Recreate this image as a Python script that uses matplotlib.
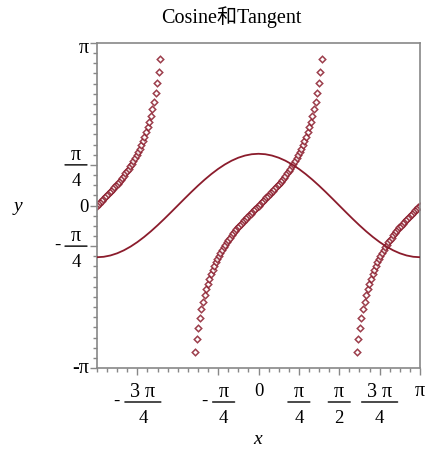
import numpy as np
import matplotlib
matplotlib.use("Agg")
import matplotlib.pyplot as plt
from matplotlib.ticker import MultipleLocator
from matplotlib.transforms import blended_transform_factory, offset_copy

plt.rcParams['font.family'] = ['Liberation Serif', 'Noto Sans CJK SC', 'DejaVu Sans']

PI = np.pi

# ---- data: cosine curve ----
cos_x = [-3.1416, -3.0107, -2.8798, -2.7489, -2.6180, -2.4871, -2.3562, -2.2253, -2.0944, -1.9635,
         -1.8326, -1.7017, -1.5708, -1.4399, -1.3090, -1.1781, -1.0472, -0.9163, -0.7854, -0.6545,
         -0.5236, -0.3927, -0.2618, -0.1309, 0.0000, 0.1309, 0.2618, 0.3927, 0.5236, 0.6545,
         0.7854, 0.9163, 1.0472, 1.1781, 1.3090, 1.4399, 1.5708, 1.7017, 1.8326, 1.9635,
         2.0944, 2.2253, 2.3562, 2.4871, 2.6180, 2.7489, 2.8798, 3.0107, 3.1416]
cos_y = [-1.0000, -0.99144, -0.96593, -0.92388, -0.86603, -0.79335, -0.70711, -0.60876, -0.5000, -0.38268,
         -0.25882, -0.13053, 0.0000, 0.13053, 0.25882, 0.38268, 0.5000, 0.60876, 0.70711, 0.79335,
         0.86603, 0.92388, 0.96593, 0.99144, 1.0000, 0.99144, 0.96593, 0.92388, 0.86603, 0.79335,
         0.70711, 0.60876, 0.5000, 0.38268, 0.25882, 0.13053, 0.0000, -0.13053, -0.25882, -0.38268,
         -0.5000, -0.60876, -0.70711, -0.79335, -0.86603, -0.92388, -0.96593, -0.99144, -1.0000]

# ---- data: tangent points (three visible branches) ----
tan_left_x = [-3.1416, -3.1108, -3.0800, -3.0492, -3.0184, -2.9876, -2.9568, -2.9260, -2.8952, -2.8644,
              -2.8336, -2.8028, -2.7720, -2.7412, -2.7104, -2.6796, -2.6488, -2.6180, -2.5872, -2.5564,
              -2.5256, -2.4948, -2.4640, -2.4332, -2.4024, -2.3716, -2.3408, -2.3100, -2.2792, -2.2484,
              -2.2176, -2.1868, -2.1560, -2.1252, -2.0944, -2.0636, -2.0328, -2.0020, -1.9712, -1.9404,
              -1.9096]
tan_left_y = [0.0000, 0.0308, 0.0617, 0.0927, 0.1238, 0.1552, 0.1869, 0.2190, 0.2515, 0.2845,
              0.3181, 0.3524, 0.3874, 0.4233, 0.4601, 0.4980, 0.5370, 0.5774, 0.6192, 0.6626,
              0.7079, 0.7552, 0.8047, 0.8568, 0.9116, 0.9697, 1.0313, 1.0970, 1.1672, 1.2427,
              1.3242, 1.4127, 1.5092, 1.6151, 1.7321, 1.8622, 2.0082, 2.1735, 2.3626, 2.5813,
              2.8379]

tan_mid_x = [-1.2320, -1.2012, -1.1704, -1.1396, -1.1088, -1.0780, -1.0472, -1.0164, -0.9856, -0.9548,
             -0.9240, -0.8932, -0.8624, -0.8316, -0.8008, -0.7700, -0.7392, -0.7084, -0.6776, -0.6468,
             -0.6160, -0.5852, -0.5544, -0.5236, -0.4928, -0.4620, -0.4312, -0.4004, -0.3696, -0.3388,
             -0.3080, -0.2772, -0.2464, -0.2156, -0.1848, -0.1540, -0.1232, -0.0924, -0.0616, -0.0308,
             0.0000,
             0.0308, 0.0616, 0.0924, 0.1232, 0.1540, 0.1848, 0.2156, 0.2464, 0.2772, 0.3080,
             0.3388, 0.3696, 0.4004, 0.4312, 0.4620, 0.4928, 0.5236, 0.5544, 0.5852, 0.6160,
             0.6468, 0.6776, 0.7084, 0.7392, 0.7700, 0.8008, 0.8316, 0.8624, 0.8932, 0.9240,
             0.9548, 0.9856, 1.0164, 1.0472, 1.0780, 1.1088, 1.1396, 1.1704, 1.2012, 1.2320]
tan_mid_y = [-2.8379, -2.5813, -2.3626, -2.1735, -2.0082, -1.8622, -1.7321, -1.6151, -1.5092, -1.4127,
             -1.3242, -1.2427, -1.1672, -1.0970, -1.0313, -0.9697, -0.9116, -0.8568, -0.8047, -0.7552,
             -0.7079, -0.6626, -0.6192, -0.5774, -0.5370, -0.4980, -0.4601, -0.4233, -0.3874, -0.3524,
             -0.3181, -0.2845, -0.2515, -0.2190, -0.1869, -0.1552, -0.1238, -0.0927, -0.0617, -0.0308,
             0.0000,
             0.0308, 0.0617, 0.0927, 0.1238, 0.1552, 0.1869, 0.2190, 0.2515, 0.2845, 0.3181,
             0.3524, 0.3874, 0.4233, 0.4601, 0.4980, 0.5370, 0.5774, 0.6192, 0.6626, 0.7079,
             0.7552, 0.8047, 0.8568, 0.9116, 0.9697, 1.0313, 1.0970, 1.1672, 1.2427, 1.3242,
             1.4127, 1.5092, 1.6151, 1.7321, 1.8622, 2.0082, 2.1735, 2.3626, 2.5813, 2.8379]

tan_right_x = [1.9096, 1.9404, 1.9712, 2.0020, 2.0328, 2.0636, 2.0944, 2.1252, 2.1560, 2.1868,
               2.2176, 2.2484, 2.2792, 2.3100, 2.3408, 2.3716, 2.4024, 2.4332, 2.4640, 2.4948,
               2.5256, 2.5564, 2.5872, 2.6180, 2.6488, 2.6796, 2.7104, 2.7412, 2.7720, 2.8028,
               2.8336, 2.8644, 2.8952, 2.9260, 2.9568, 2.9876, 3.0184, 3.0492, 3.0800, 3.1108,
               3.1416]
tan_right_y = [-2.8379, -2.5813, -2.3626, -2.1735, -2.0082, -1.8622, -1.7321, -1.6151, -1.5092, -1.4127,
               -1.3242, -1.2427, -1.1672, -1.0970, -1.0313, -0.9697, -0.9116, -0.8568, -0.8047, -0.7552,
               -0.7079, -0.6626, -0.6192, -0.5774, -0.5370, -0.4980, -0.4601, -0.4233, -0.3874, -0.3524,
               -0.3181, -0.2845, -0.2515, -0.2190, -0.1869, -0.1552, -0.1238, -0.0927, -0.0617, -0.0308,
               0.0000]

# ---- ticks: (negative?, numerator, denominator) ; denominator None = plain label ----
x_ticks = [-3 * PI / 4, -PI / 4, 0, PI / 4, PI / 2, 3 * PI / 4, PI]
x_tick_labels = [(True, '3 π', '4'), (True, 'π', '4'), (False, '0', None),
                 (False, 'π', '4'), (False, 'π', '2'), (False, '3 π', '4'), (False, 'π', None)]
y_ticks = [-PI, -PI / 4, 0, PI / 4, PI]
y_tick_labels = [(True, 'π', None), (True, 'π', '4'), (False, '0', None),
                 (False, 'π', '4'), (False, 'π', None)]

title = 'Cosine和Tangent'
color = '#8B1C2C'
frame = '#888888'
FS = 13.5

fig = plt.figure(figsize=(4.26, 4.50), dpi=100)
ax = fig.add_axes([97 / 426, 1 - 368 / 450, 323 / 426, 325 / 450])

for bx, by in [(tan_left_x, tan_left_y), (tan_mid_x, tan_mid_y), (tan_right_x, tan_right_y)]:
    ax.plot(bx, by, linestyle='none', marker='D', markersize=3.3, markeredgewidth=1.1,
            markerfacecolor='white', markeredgecolor=color, alpha=0.85, zorder=2)
ax.plot(cos_x, cos_y, color=color, linewidth=1.3, zorder=3)

ax.set_xlim(-PI, PI)
ax.set_ylim(-PI, PI)

ax.set_xticks(x_ticks)
ax.set_xticklabels([''] * len(x_ticks))
ax.set_yticks(y_ticks)
ax.set_yticklabels([''] * len(y_ticks))
ax.xaxis.set_minor_locator(MultipleLocator(PI / 16))
ax.yaxis.set_minor_locator(MultipleLocator(PI / 16))
ax.tick_params(which='major', direction='out', length=5, width=1, color=frame)
ax.tick_params(which='minor', direction='out', length=3, width=1, color=frame)

for s in ax.spines.values():
    s.set_color(frame)
    s.set_linewidth(1.2)

xbase = blended_transform_factory(ax.transData, ax.transAxes)
ybase = blended_transform_factory(ax.transAxes, ax.transData)


def txt(base, x, y, dx, dy, s, ha='center', size=FS):
    ax.text(x, y, s, transform=offset_copy(base, fig, x=dx, y=dy, units='dots'),
            ha=ha, va='baseline', fontsize=size, clip_on=False)


def bar(base, x, y, x0, x1, dy):
    ax.annotate('', xy=(x, y), xycoords=offset_copy(base, fig, x=x0, y=dy, units='dots'),
                xytext=(x, y), textcoords=offset_copy(base, fig, x=x1, y=dy, units='dots'),
                arrowprops=dict(arrowstyle='-', lw=1.0, color='black', shrinkA=0, shrinkB=0),
                annotation_clip=False)


def frac(base, x, y, cx, by, neg, num, den):
    hw = 18 if len(num) > 1 else 11
    bar(base, x, y, cx - hw, cx + hw, by)
    txt(base, x, y, cx, by + 5, num, size=FS + 1)
    txt(base, x, y, cx, by - 21, den)
    if neg:
        txt(base, x, y, cx - hw - 8, by - 4, '-')


# x tick labels
for t, (neg, num, den) in zip(x_ticks, x_tick_labels):
    if den is None:
        txt(xbase, t, 0, 0, -28, ('-' if neg else '') + num,
            size=FS + 1 if num == 'π' else FS)
    else:
        cx = 5.5 if neg else 0
        frac(xbase, t, 0, cx, -34, neg, num, den)

# y tick labels
for t, (neg, num, den) in zip(y_ticks, y_tick_labels):
    if den is None:
        dy = -6
        if num == 'π' and not neg:
            dy = -10
        if neg:
            dy = -5
        txt(ybase, 0, t, -8, dy, ('-' if neg else '') + num, ha='right',
            size=FS + 1 if num == 'π' else FS)
    else:
        frac(ybase, 0, t, -21, 0, neg, num, den)

fig.text(231 / 426, 1 - 17 / 450, title, ha='center', va='center', fontsize=14.5)
fig.text(258 / 426, 1 - 440 / 450, 'x', ha='center', va='center', fontsize=14,
         style='italic')
fig.text(18 / 426, 1 - 207 / 450, 'y', ha='center', va='center', fontsize=14,
         style='italic')

fig.savefig('out.png', dpi=100)
